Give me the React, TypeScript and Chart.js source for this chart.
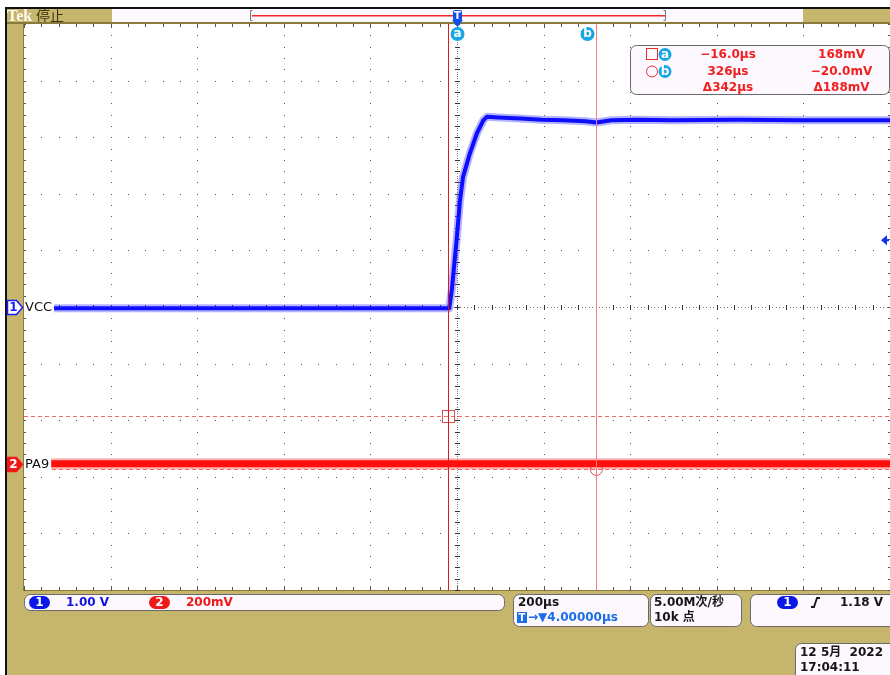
import { useEffect, useRef } from "react";
import { Chart, registerables } from "chart.js";
Chart.register(...registerables);

// ---------------- data ----------------
const TIME_MIN = -996; // µs  (200 µs/div, 10 div, horizontal position 4 µs)
const TIME_MAX = 1004;
const TRIGGER_POS = 4;
const vccTimes = [-996, -14, -8, 3, 11, 18, 34, 50, 65, 73, 100, 150, 200, 250, 300, 326, 360, 420, 500, 650, 800, 1004];
const vccVolts = [-0.02, -0.02, 0.3, 1.18, 1.89, 2.3, 2.72, 3.07, 3.3, 3.36, 3.35, 3.33, 3.31, 3.3, 3.28, 3.26, 3.3, 3.31, 3.3, 3.31, 3.3, 3.3];
const pa9Times = [-996, 1004];
const pa9Millivolts = [0, 0];
const cursorTimes = [-16, 326];
const cursorMillivolts = [168, -20];
const cursorTimeLabels = ["\u221216.0\u00b5s", "326\u00b5s", "\u0394342\u00b5s"];
const cursorVoltLabels = ["168mV", "\u221220.0mV", "\u0394188mV"];
const channelNames = ["VCC", "PA9"];
const channelScaleLabels = ["1.00 V", "200mV"];
const CH1_VOLTS_PER_DIV = 1.0;
const CH1_POS_DIV = 0;
const CH2_MV_PER_DIV = 200;
const CH2_POS_DIV = -2.77;
const TRIGGER_LEVEL_V = 1.18;

const W = 890;
const H = 675;
const KHAKI = "#c5b56d";
const BROWN = "#8a7a3c";
const CYAN = "#14a6e6";
const RED_TXT = "#ee2020";
const BOX_FILL = "#fdf8fd";
const FONT = '"DejaVu Sans", "Noto Sans CJK SC", sans-serif';
const BFONT = "bold 12px " + FONT;

function ch1Div(v: number) {
  return v / CH1_VOLTS_PER_DIV + CH1_POS_DIV;
}
function ch2Div(mv: number) {
  return mv / CH2_MV_PER_DIV + CH2_POS_DIV;
}

function roundRect(ctx: CanvasRenderingContext2D, x: number, y: number, w: number, h: number, r: number) {
  ctx.beginPath();
  ctx.moveTo(x + r, y);
  ctx.lineTo(x + w - r, y);
  ctx.arcTo(x + w, y, x + w, y + r, r);
  ctx.lineTo(x + w, y + h - r);
  ctx.arcTo(x + w, y + h, x + w - r, y + h, r);
  ctx.lineTo(x + r, y + h);
  ctx.arcTo(x, y + h, x, y + h - r, r);
  ctx.lineTo(x, y + r);
  ctx.arcTo(x, y, x + r, y, r);
  ctx.closePath();
}

function infoBox(ctx: CanvasRenderingContext2D, x: number, y: number, w: number, h: number) {
  roundRect(ctx, x + 0.5, y + 0.5, w, h, 6);
  ctx.fillStyle = BOX_FILL;
  ctx.fill();
  ctx.strokeStyle = "#6a6a6a";
  ctx.lineWidth = 1;
  ctx.stroke();
}

function pill(ctx: CanvasRenderingContext2D, x: number, y: number, w: number, h: number, fill: string, text: string) {
  roundRect(ctx, x, y, w, h, h / 2);
  ctx.fillStyle = fill;
  ctx.fill();
  ctx.fillStyle = "#fff";
  ctx.font = "bold 12px " + FONT;
  ctx.textAlign = "center";
  ctx.textBaseline = "middle";
  ctx.fillText(text, x + w / 2, y + h / 2 + 0.5);
}

function badge(ctx: CanvasRenderingContext2D, cx: number, cy: number, r: number, text: string) {
  ctx.beginPath();
  ctx.arc(cx, cy, r, 0, Math.PI * 2);
  ctx.fillStyle = CYAN;
  ctx.fill();
  ctx.fillStyle = "#fff";
  ctx.font = "bold 12px " + FONT;
  ctx.textAlign = "center";
  ctx.textBaseline = "middle";
  ctx.fillText(text, cx, cy);
}

function text(ctx: CanvasRenderingContext2D, s: string, x: number, y: number, color: string, align: CanvasTextAlign = "left", font = BFONT) {
  ctx.font = font;
  ctx.fillStyle = color;
  ctx.textAlign = align;
  ctx.textBaseline = "middle";
  ctx.fillText(s, x, y);
}

const scopePlugin = {
  id: "scope",
  beforeDraw(chart: any) {
    const ctx: CanvasRenderingContext2D = chart.ctx;
    const { left, top, right, bottom } = chart.chartArea;
    ctx.save();
    ctx.fillStyle = "#ffffff";
    ctx.fillRect(0, 0, W, H);
    ctx.fillStyle = KHAKI;
    ctx.fillRect(7, 9, W - 7, H - 9);
    ctx.fillStyle = "#111";
    ctx.fillRect(5, 7, W - 5, 2);
    ctx.fillRect(5, 7, 2, H - 7);

    // record view bar
    ctx.fillStyle = BOX_FILL;
    ctx.fillRect(112, 9, 691, 13);
    ctx.fillStyle = "#f02828";
    ctx.fillRect(252, 15, 414, 1.5);
    ctx.strokeStyle = "#777";
    ctx.lineWidth = 1;
    [250.5, 665.5].forEach((bx, i) => {
      ctx.beginPath();
      ctx.moveTo(bx + (i === 0 ? 2 : -2), 10.5);
      ctx.lineTo(bx, 10.5);
      ctx.lineTo(bx, 20.5);
      ctx.lineTo(bx + (i === 0 ? 2 : -2), 20.5);
      ctx.stroke();
    });

    // Tek label
    ctx.fillStyle = "#fffaf0";
    ctx.font = 'bold 16px "Liberation Serif", "DejaVu Serif", serif';
    ctx.textAlign = "left";
    ctx.textBaseline = "alphabetic";
    ctx.fillText("Tek", 7, 21);
    ctx.fillStyle = "#3a3210";
    ctx.font = '14px "Noto Sans CJK SC", sans-serif';
    ctx.fillText("\u505c\u6b62", 36, 21);

    // plot area
    ctx.fillStyle = "#ffffff";
    ctx.fillRect(left, top, right - left, bottom - top);
    ctx.fillStyle = BROWN;
    ctx.fillRect(7, top - 2, W - 7, 2);
    ctx.fillRect(left - 1, top - 2, 1, bottom - top + 3);
    ctx.fillRect(left - 1, bottom, right - left + 1, 1);

    const dx = (right - left) / 10;
    const dy = (bottom - top) / 10;
    const cx = left + 5 * dx;
    const cy = top + 5 * dy;

    // edge ticks
    ctx.fillStyle = "#555";
    for (let j = 0; j <= 50; j++) {
      const x = Math.round(left + (j * dx) / 5);
      const len = j % 5 === 0 ? 4 : 3;
      ctx.fillRect(x, top, 1, len);
      ctx.fillRect(x, bottom - len, 1, len);
    }
    for (let j = 0; j <= 50; j++) {
      const y = Math.round(top + (j * dy) / 5);
      ctx.fillRect(left, y, 2, 1);
      ctx.fillRect(right - 2, y, 2, 1);
    }

    // grid dots
    ctx.fillStyle = "#555";
    for (let i = 1; i < 10; i++) {
      if (i === 5) continue;
      const x = Math.round(left + i * dx);
      for (let j = 0; j <= 50; j++) {
        ctx.fillRect(x, Math.round(top + (j * dy) / 5), 1, 1);
      }
    }
    for (let k = 1; k < 10; k++) {
      if (k === 5) continue;
      const y = Math.round(top + k * dy);
      for (let j = 0; j <= 50; j++) {
        ctx.fillRect(Math.round(left + (j * dx) / 5), y, 1, 1);
      }
    }
    // center lines
    ctx.fillStyle = "#777";
    for (let j = 0; j <= 250; j++) {
      ctx.fillRect(Math.round(left + (j * dx) / 25), Math.round(cy), 1, 1);
      ctx.fillRect(Math.round(cx), Math.round(top + (j * dy) / 25), 1, 1);
    }
    ctx.fillStyle = "#333";
    for (let j = 0; j <= 50; j++) {
      const x = Math.round(left + (j * dx) / 5);
      ctx.fillRect(x, Math.round(cy) - 2, 1, 5);
      const y = Math.round(top + (j * dy) / 5);
      ctx.fillRect(Math.round(cx) - 2, y, 5, 1);
    }
    ctx.restore();
  },
  beforeDatasetsDraw(chart: any) {
    const ctx: CanvasRenderingContext2D = chart.ctx;
    const { left, right } = chart.chartArea;
    const xs = chart.scales.x;
    const ys = chart.scales.y;
    ctx.save();
    // horizontal cursors (on channel 2)
    ctx.strokeStyle = "rgba(238,90,90,0.9)";
    ctx.lineWidth = 1;
    ctx.setLineDash([4, 3]);
    cursorMillivolts.forEach((mv) => {
      const y = Math.round(ys.getPixelForValue(ch2Div(mv))) + 0.5;
      ctx.beginPath();
      ctx.moveTo(left, y);
      ctx.lineTo(right, y);
      ctx.stroke();
    });
    ctx.setLineDash([]);
    // cursor markers
    const xa = xs.getPixelForValue(cursorTimes[0]);
    const ya = ys.getPixelForValue(ch2Div(cursorMillivolts[0]));
    ctx.strokeStyle = "#e05050";
    ctx.strokeRect(Math.round(xa) - 5.5, Math.round(ya) - 5.5, 12, 12);
    const xb = xs.getPixelForValue(cursorTimes[1]);
    const yb = ys.getPixelForValue(ch2Div(cursorMillivolts[1]));
    ctx.beginPath();
    ctx.arc(xb, yb, 6, 0, Math.PI * 2);
    ctx.stroke();
    ctx.restore();
  },
  afterDatasetsDraw(chart: any) {
    const ctx: CanvasRenderingContext2D = chart.ctx;
    const { left, top, right, bottom } = chart.chartArea;
    const xs = chart.scales.x;
    const ys = chart.scales.y;
    ctx.save();
    // vertical cursors
    const xa = Math.round(xs.getPixelForValue(cursorTimes[0])) + 0.5;
    const xb = Math.round(xs.getPixelForValue(cursorTimes[1])) + 0.5;
    ctx.lineWidth = 1;
    ctx.strokeStyle = "#e01818";
    ctx.beginPath();
    ctx.moveTo(xa, top);
    ctx.lineTo(xa, bottom);
    ctx.stroke();
    ctx.strokeStyle = "#f48080";
    ctx.beginPath();
    ctx.moveTo(xb, top);
    ctx.lineTo(xb, bottom);
    ctx.stroke();
    badge(ctx, xa + 9, 34, 7, "a");
    badge(ctx, xb - 9, 34, 7, "b");

    // trigger position marker
    const xt = Math.round(xs.getPixelForValue(TRIGGER_POS));
    ctx.fillStyle = "#1050e8";
    roundRect(ctx, xt - 4, 10, 9, 11, 2);
    ctx.fill();
    ctx.beginPath();
    ctx.moveTo(xt - 5, 20);
    ctx.lineTo(xt + 6, 20);
    ctx.lineTo(xt + 0.5, 27);
    ctx.closePath();
    ctx.fill();
    text(ctx, "T", xt + 0.5, 16, "#fff", "center", "bold 10px " + FONT);

    // trigger level arrow (right)
    const yt = ys.getPixelForValue(ch1Div(TRIGGER_LEVEL_V));
    ctx.fillStyle = "#1030f0";
    ctx.beginPath();
    ctx.moveTo(right - 9, yt);
    ctx.lineTo(right - 3, yt - 5);
    ctx.lineTo(right - 3, yt + 5);
    ctx.closePath();
    ctx.fill();
    ctx.fillRect(right - 4, yt - 1, 3, 2);

    // channel labels & markers
    const y1 = ys.getPixelForValue(ch1Div(0));
    const y2 = ys.getPixelForValue(ch2Div(0));
    [
      { y: y1, name: channelNames[0] },
      { y: y2, name: channelNames[1] },
    ].forEach(({ y, name }) => {
      ctx.font = "13px " + FONT;
      const w = ctx.measureText(name).width;
      ctx.fillStyle = "#fff";
      ctx.fillRect(left, y - 7, w + 3, 14);
      text(ctx, name, left + 1, y + 0.5, "#111", "left", "13px " + FONT);
    });
    const marker = (y: number, fill: string, stroke: string, label: string, txt: string) => {
      ctx.beginPath();
      ctx.moveTo(7.5, y - 7);
      ctx.lineTo(16.5, y - 7);
      ctx.lineTo(22.5, y);
      ctx.lineTo(16.5, y + 7);
      ctx.lineTo(7.5, y + 7);
      ctx.closePath();
      ctx.fillStyle = fill;
      ctx.fill();
      ctx.strokeStyle = stroke;
      ctx.lineWidth = 1.5;
      ctx.stroke();
      text(ctx, label, 13.5, y + 0.5, txt, "center", "bold 12px " + FONT);
    };
    marker(Math.round(y1) + 0.5, "#fff", "#1a1aff", "1", "#1a1aff");
    marker(Math.round(y2) + 0.5, "#f01818", "#f01818", "2", "#fff");

    // cursor readout box
    infoBox(ctx, 630, 45, 259, 49);
    ctx.strokeStyle = "#e83030";
    ctx.lineWidth = 1;
    ctx.strokeRect(646.5, 48.5, 11, 11);
    ctx.beginPath();
    ctx.arc(652, 71.5, 5.5, 0, Math.PI * 2);
    ctx.stroke();
    badge(ctx, 665, 54.5, 6.5, "a");
    badge(ctx, 665, 71.5, 6.5, "b");
    const rows = [54.5, 71.5, 87.5];
    cursorTimeLabels.forEach((s, i) => text(ctx, s, 728, rows[i], RED_TXT, "center"));
    cursorVoltLabels.forEach((s, i) => text(ctx, s, 841.5, rows[i], RED_TXT, "center"));

    // bottom status boxes
    infoBox(ctx, 24, 594, 480, 16);
    pill(ctx, 29, 596, 21, 13, "#0b16e8", "1");
    text(ctx, channelScaleLabels[0], 66, 602.5, "#1212e0");
    pill(ctx, 149, 596, 21, 13, "#f01818", "2");
    text(ctx, channelScaleLabels[1], 186, 602.5, "#f01818");

    infoBox(ctx, 513, 594, 135, 32);
    text(ctx, "200\u00b5s", 518, 602.5, "#151515");
    ctx.fillStyle = "#1a6ee8";
    ctx.fillRect(517, 612, 10, 11);
    text(ctx, "T", 522, 618, "#fff", "center", "bold 10px " + FONT);
    text(ctx, "\u2192\u25bc4.00000\u00b5s", 528, 618, "#1a6ee8");

    infoBox(ctx, 650, 594, 91, 32);
    text(ctx, "5.00M\u6b21/\u79d2", 654, 602.5, "#151515");
    text(ctx, "10k \u70b9", 654, 618, "#151515");

    infoBox(ctx, 750, 594, 150, 32);
    pill(ctx, 777, 596, 21, 13, "#0b16e8", "1");
    ctx.strokeStyle = "#151515";
    ctx.lineWidth = 1.8;
    ctx.beginPath();
    ctx.moveTo(811, 607);
    ctx.lineTo(814, 607);
    ctx.lineTo(817, 598);
    ctx.lineTo(820, 598);
    ctx.stroke();
    text(ctx, TRIGGER_LEVEL_V.toFixed(2) + " V", 840, 602.5, "#151515");

    infoBox(ctx, 795, 643, 110, 40);
    text(ctx, "12 5\u6708  2022", 800, 653, "#151515");
    text(ctx, "17:04:11", 800, 668, "#151515");
    ctx.restore();
  },
};

export default function App() {
  const ref = useRef<HTMLCanvasElement | null>(null);
  useEffect(() => {
    if (!ref.current) return;
    const vccData = vccTimes.map((t, i) => ({ x: t, y: ch1Div(vccVolts[i]) }));
    const pa9Data = pa9Times.map((t, i) => ({ x: t, y: ch2Div(pa9Millivolts[i]) }));
    const base = { pointRadius: 0, tension: 0, borderJoinStyle: "round" as const };
    const chart = new Chart(ref.current, {
      type: "line",
      data: {
        datasets: [
          { label: channelNames[1] + " halo", data: pa9Data, borderColor: "rgba(255,40,40,0.35)", borderWidth: 11, ...base },
          { label: channelNames[1], data: pa9Data, borderColor: "#ff0000", borderWidth: 7, ...base },
          { label: channelNames[0] + " halo", data: vccData, borderColor: "rgba(40,40,255,0.35)", borderWidth: 8, ...base },
          { label: channelNames[0], data: vccData, borderColor: "#0000ff", borderWidth: 4, ...base },
        ],
      },
      options: {
        animation: false,
        responsive: false,
        devicePixelRatio: 1,
        layout: { padding: { left: 24, top: 24, right: 0, bottom: 85 } },
        plugins: { legend: { display: false }, tooltip: { enabled: false } },
        events: [],
        scales: {
          x: { type: "linear", min: TIME_MIN, max: TIME_MAX, display: false },
          y: { type: "linear", min: -5, max: 5, display: false },
        },
      },
      plugins: [scopePlugin],
    });
    return () => chart.destroy();
  }, []);
  return (
    <div style={{ position: "absolute", left: 0, top: 0, width: W, height: H }}>
      <canvas ref={ref} width={W} height={H} style={{ display: "block", width: W, height: H }} />
    </div>
  );
}
